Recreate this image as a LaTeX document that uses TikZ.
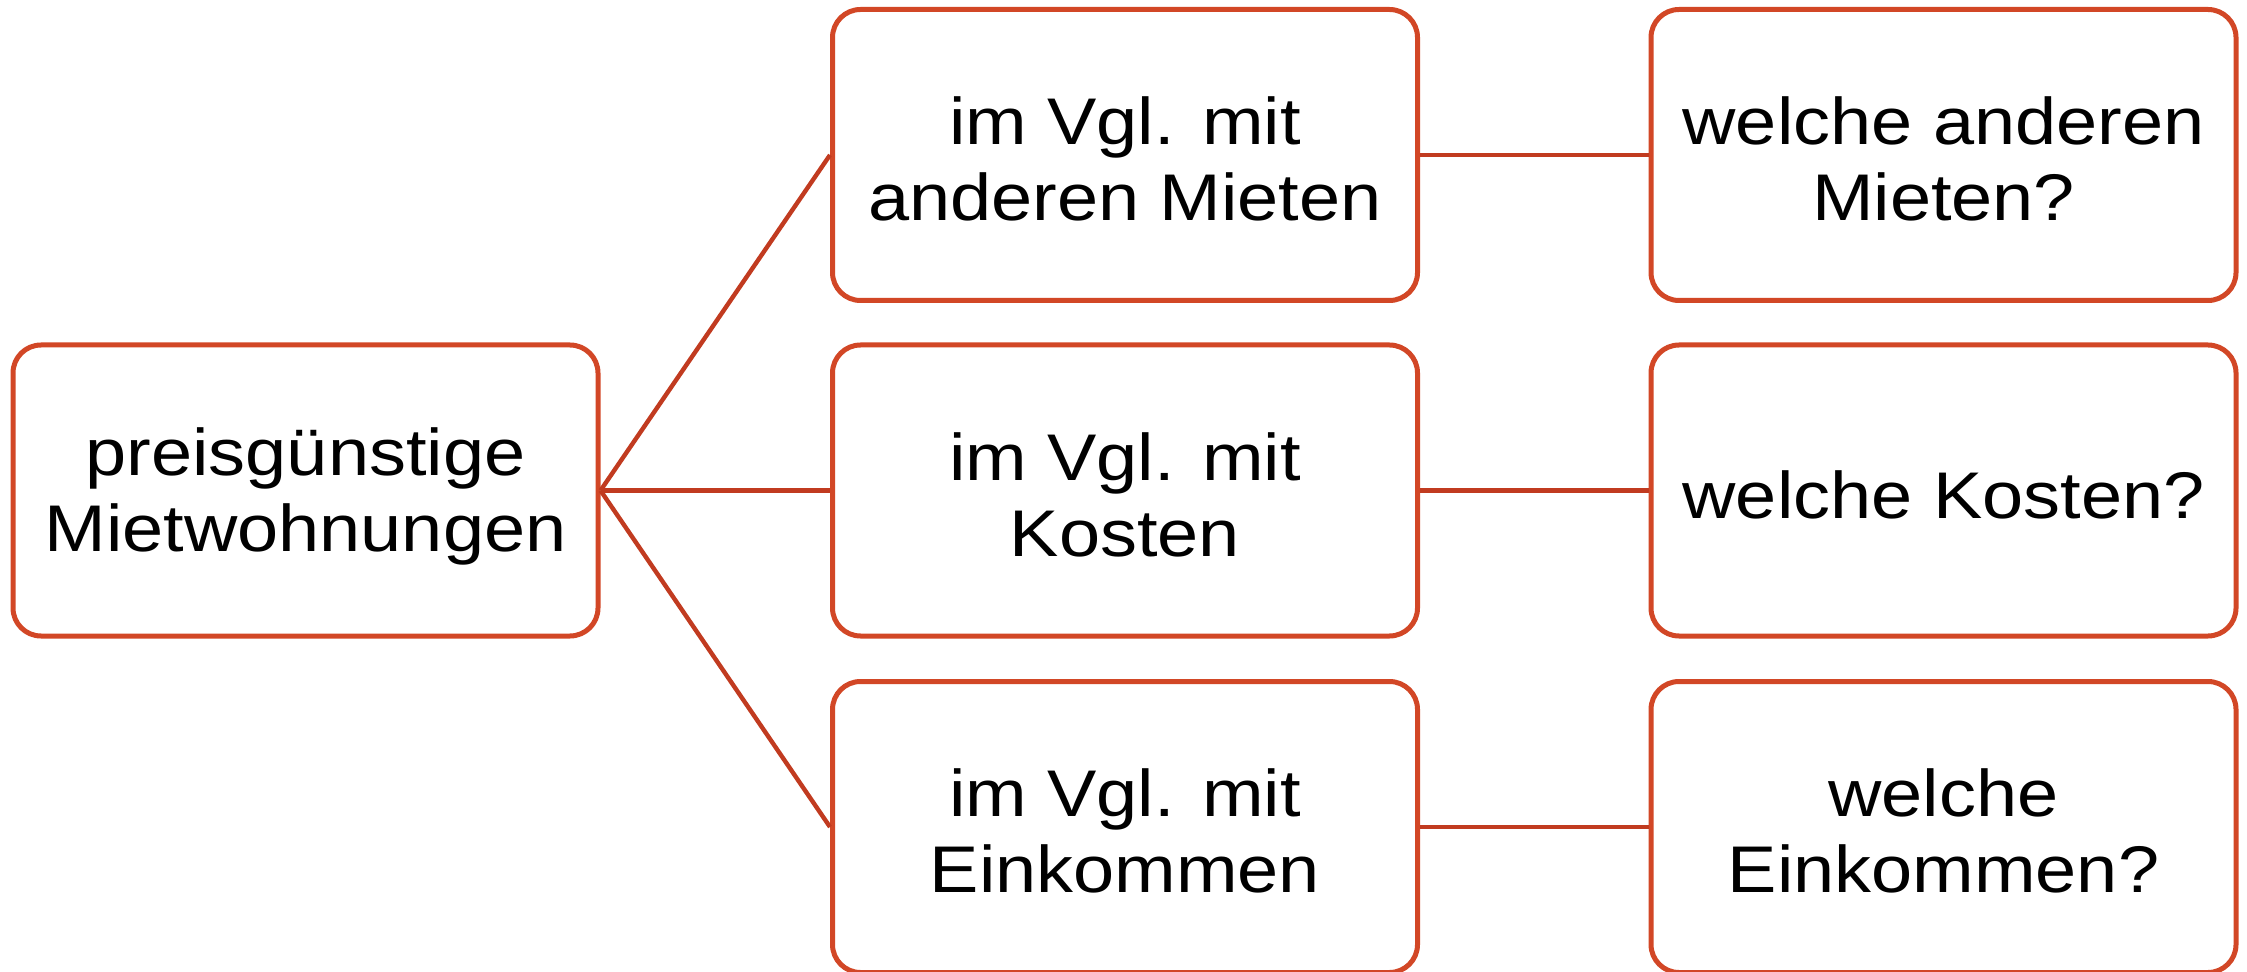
\documentclass[tikz,border=0pt]{standalone}
\usepackage{fontspec}
\setmainfont{Liberation Sans}[FakeStretch=1.12]
\definecolor{boxred}{HTML}{D24726}
\definecolor{linered}{HTML}{C13B20}
\begin{document}
\begin{tikzpicture}[x=1pt,y=1pt,
  box/.style={draw=boxred, line width=2.5pt, fill=white, rounded corners=14pt,
    minimum width=292.5pt, minimum height=145.5pt, inner sep=0pt},
  lbl/.style={align=center, font=\fontsize{33}{38}\selectfont, inner sep=0pt},
  conn/.style={draw=linered, line width=2.2pt}]
\useasboundingbox (0,0) rectangle (1123.5,-486);
\node[box] (root) at (152.75,-245.25) {};
\node[box] (m1) at (562.5,-77.5) {};
\node[box] (m2) at (562.5,-245.25) {};
\node[box] (m3) at (562.5,-413.5) {};
\node[box] (r1) at (971.75,-77.5) {};
\node[box] (r2) at (971.75,-245.25) {};
\node[box] (r3) at (971.75,-413.5) {};
\node[lbl] (troot) at ([yshift=-3pt]root.center) {preisgünstige\\Mietwohnungen};
\node[lbl] (tm1) at ([yshift=-2pt]m1.center) {im Vgl. mit\\anderen Mieten};
\node[lbl] (tm2) at ([yshift=-2pt]m2.center) {im Vgl. mit\\Kosten};
\node[lbl] (tm3) at ([yshift=-2pt]m3.center) {im Vgl. mit\\Einkommen};
\node[lbl] (tr1) at ([yshift=-2pt]r1.center) {welche anderen\\Mieten?};
\node[lbl] (tr2) at ([yshift=-2pt]r2.center) {welche Kosten?};
\node[lbl] (tr3) at ([yshift=-2pt]r3.center) {welche\\Einkommen?};
\draw[conn] (root.east) -- (m1.west);
\draw[conn] (root.east) -- (m2.west);
\draw[conn] (root.east) -- (m3.west);
\draw[conn] (m1.east) -- (r1.west);
\draw[conn] (m2.east) -- (r2.west);
\draw[conn] (m3.east) -- (r3.west);
\end{tikzpicture}
\end{document}
